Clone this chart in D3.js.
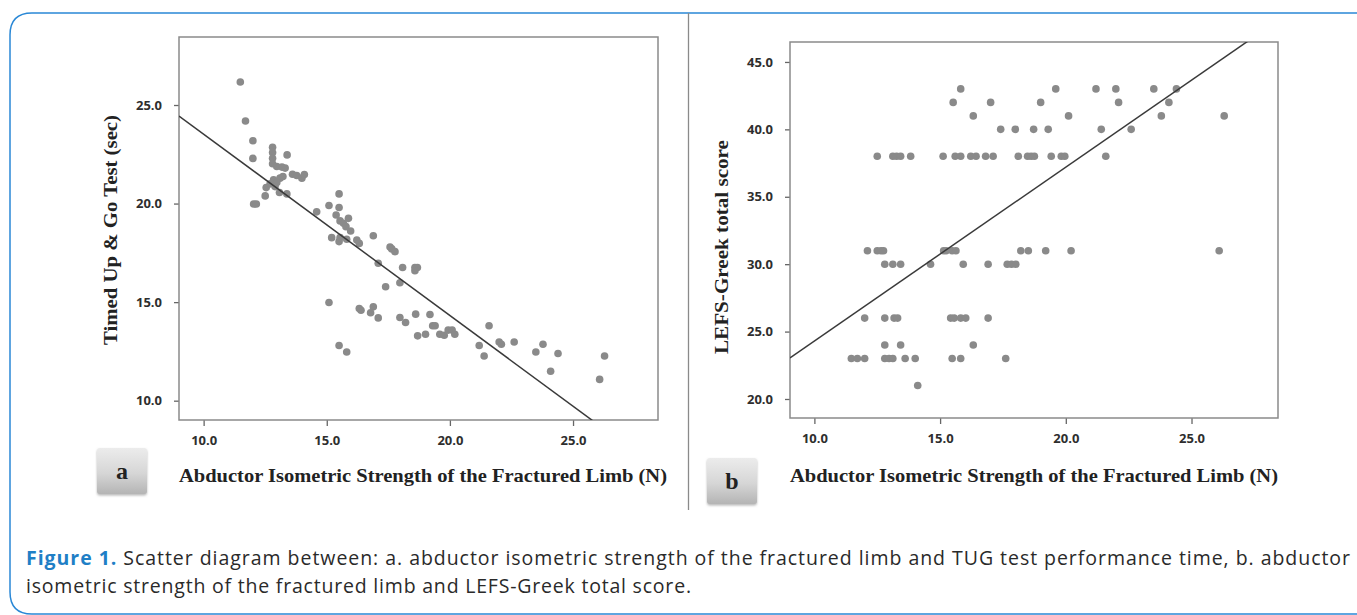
<!DOCTYPE html>
<html>
<head>
<meta charset="utf-8">
<script src="https://cdn.jsdelivr.net/npm/d3@7"></script>
<style>
  html, body { margin: 0; padding: 0; background: #fff; }
  svg { display: block; }
</style>
</head>
<body>
<div id="chart"></div>
<script>
// panel a: abductor strength vs TUG time
const aStrength = [11.49, 11.70, 12.00, 12.00, 12.03, 12.14, 12.50, 12.54, 12.70, 12.80, 12.80, 12.80, 12.80, 12.84,
  12.90, 12.97, 12.97, 13.08, 13.10, 13.18, 13.22, 13.31, 13.38, 13.39, 13.61, 13.78, 13.99, 14.09, 14.59, 15.09,
  15.50, 15.50, 15.38, 15.54, 15.68, 15.88, 15.78, 15.97, 15.20, 15.50, 15.54, 15.81, 16.22, 16.32, 16.89, 17.09,
  17.57, 17.64, 17.77, 18.08, 17.97, 18.58, 18.68, 18.58, 17.39, 15.09, 16.32, 16.39, 16.89, 16.78, 17.09, 17.97,
  18.20, 18.61, 19.19, 19.30, 19.40, 18.69, 19.01, 19.59, 19.77, 19.93, 20.09, 20.20, 15.50, 15.81, 21.19, 21.59,
  21.39, 22.00, 22.09, 22.61, 23.49, 23.78, 24.09, 24.39, 26.08, 26.28]
const aTug = [26.17, 24.19, 23.19, 22.29, 19.98, 19.98, 20.39, 20.81, 21.00, 22.86, 22.59, 22.30, 22.02, 21.20,
  20.86, 21.88, 21.07, 20.56, 21.29, 21.85, 21.37, 21.80, 20.49, 22.47, 21.49, 21.42, 21.29, 21.47, 19.58, 19.90,
  20.49, 19.80, 19.42, 19.12, 19.00, 19.25, 18.83, 18.61, 18.27, 18.07, 18.27, 18.19, 18.15, 17.98, 18.37, 16.97,
  17.80, 17.70, 17.56, 16.76, 15.98, 16.76, 16.76, 16.59, 15.78, 14.98, 14.68, 14.59, 14.76, 14.46, 14.20, 14.22,
  13.97, 14.39, 14.37, 13.80, 13.80, 13.29, 13.37, 13.37, 13.32, 13.58, 13.58, 13.37, 12.80, 12.47, 12.80, 13.80,
  12.27, 12.98, 12.86, 12.98, 12.47, 12.86, 11.49, 12.39, 11.08, 12.27]
const aFit = [32.72, -0.92]   // intercept, slope

// panel b: abductor strength vs LEFS-Greek
const bStrength = [15.82, 19.60, 21.20, 21.99, 23.50, 24.40,
  15.52, 17.01, 19.00, 22.10, 24.10,
  16.32, 20.11, 23.80, 26.30,
  17.41, 17.99, 18.72, 19.30, 21.41, 22.60,
  12.50, 13.12, 13.27, 13.43, 13.83, 15.12, 15.60, 15.82, 16.22, 16.43, 16.81, 17.11, 18.11, 18.48, 18.62, 18.75, 19.42, 19.82, 19.96, 21.59,
  12.11, 12.50, 12.65, 12.75, 15.14, 15.24, 15.48, 15.63, 18.21, 18.51, 19.20, 20.21, 26.10,
  12.80, 13.12, 13.43, 14.62, 15.92, 16.91, 17.67, 17.84, 18.01,
  12.00, 12.80, 13.17, 13.31, 15.42, 15.56, 15.82, 16.02, 16.91,
  12.80, 13.43, 16.32,
  11.47, 11.71, 12.00, 12.80, 12.97, 13.12, 13.61, 14.01, 15.48, 15.82, 17.61,
  14.11]
const bLefs = [43, 43, 43, 43, 43, 43,
  42, 42, 42, 42, 42,
  41, 41, 41, 41,
  40, 40, 40, 40, 40, 40,
  38, 38, 38, 38, 38, 38, 38, 38, 38, 38, 38, 38, 38, 38, 38, 38, 38, 38, 38, 38,
  31, 31, 31, 31, 31, 31, 31, 31, 31, 31, 31, 31, 31,
  30, 30, 30, 30, 30, 30, 30, 30, 30,
  26, 26, 26, 26, 26, 26, 26, 26, 26,
  24, 24, 24,
  23, 23, 23, 23, 23, 23, 23, 23, 23, 23, 23,
  21]
const bFit = [11.4, 1.29]

const xTicks = [10, 15, 20, 25]
const aYTicks = [10, 15, 20, 25]
const bYTicks = [20, 25, 30, 35, 40, 45]
const xTitle = "Abductor Isometric Strength of the Fractured Limb (N)"
const captionLead = "Figure 1."
const captionLines = [
  " Scatter diagram between: a. abductor isometric strength of the fractured limb and TUG test performance time, b. abductor",
  "isometric strength of the fractured limb and LEFS-Greek total score."
]

const W = 1357, H = 615
const serif = "'Liberation Serif', 'Times New Roman', serif"
const sans = "'Open Sans', 'DejaVu Sans', sans-serif"

let svg = d3.select("#chart").append("svg")
  .attr("width", W)
  .attr("height", H)

let defs = svg.append("defs")
let grad = defs.append("linearGradient").attr("id", "badge").attr("x1", 0).attr("y1", 0).attr("x2", 0).attr("y2", 1)
grad.append("stop").attr("offset", "0%").attr("stop-color", "#ececec")
grad.append("stop").attr("offset", "55%").attr("stop-color", "#d6d6d6")
grad.append("stop").attr("offset", "100%").attr("stop-color", "#b4b4b4")
let shadow = defs.append("filter").attr("id", "shadow").attr("x", "-20%").attr("y", "-20%").attr("width", "140%").attr("height", "150%")
shadow.append("feDropShadow").attr("dx", 0).attr("dy", 1.5).attr("stdDeviation", 1.2).attr("flood-color", "#888").attr("flood-opacity", 0.6)

// blue frame (runs off the right edge)
svg.append("path")
  .attr("d", `M 1375 13 L 32 13 Q 10 13 10 35 L 10 592 Q 10 614 32 614 L 1375 614`)
  .attr("fill", "none")
  .attr("stroke", "#2a88d6")
  .attr("stroke-width", 1.5)

// divider between the panels
svg.append("line")
  .attr("x1", 688.5).attr("x2", 688.5)
  .attr("y1", 13).attr("y2", 510)
  .attr("stroke", "#8a8a8a")
  .attr("stroke-width", 1.3)

let panels = [
  {id: "a", box: {left: 179, right: 658, top: 37, bottom: 420}, xDomain: [9.0, 28.45], yDomain: [9.02, 28.45],
    yTicks: aYTicks, xs: aStrength, ys: aTug, fit: aFit,
    yTitle: "Timed Up & Go Test (sec)", yTitleX: 110, yTitleY: 230, yTitleLen: 230,
    badge: {x: 97, y: 448}},
  {id: "b", box: {left: 790, right: 1278, top: 42, bottom: 418}, xDomain: [9.03, 28.44], yDomain: [18.59, 46.48],
    yTicks: bYTicks, xs: bStrength, ys: bLefs, fit: bFit,
    yTitle: "LEFS-Greek total score", yTitleX: 721, yTitleY: 247, yTitleLen: 214,
    badge: {x: 707, y: 458}}
]

panels.forEach(p => {
  let b = p.box
  let x = d3.scaleLinear().domain(p.xDomain).range([b.left, b.right])
  let y = d3.scaleLinear().domain(p.yDomain).range([b.bottom, b.top])
  let g = svg.append("g")

  // axes
  let gx = g.append("g")
    .attr("transform", `translate(0, ${b.bottom})`)
    .call(d3.axisBottom(x).tickValues(xTicks).tickFormat(d3.format(".1f")).tickSize(6).tickPadding(10))
  let gy = g.append("g")
    .attr("transform", `translate(${b.left}, 0)`)
    .call(d3.axisLeft(y).tickValues(p.yTicks).tickFormat(d3.format(".1f")).tickSize(5).tickPadding(12))
  ;[gx, gy].forEach(ax => {
    ax.select(".domain").remove()
    ax.selectAll(".tick line").attr("stroke", "#666").attr("stroke-width", 1.3)
    ax.selectAll(".tick text")
      .attr("fill", "#2e2e2e")
      .style("font-family", sans)
      .style("font-weight", "bold")
      .style("font-size", "13px")
  })

  // plot box
  g.append("rect")
    .attr("x", b.left).attr("y", b.top)
    .attr("width", b.right - b.left).attr("height", b.bottom - b.top)
    .attr("fill", "none")
    .attr("stroke", "#8a8a8a")
    .attr("stroke-width", 1.5)

  // points
  g.append("g").selectAll("circle")
    .data(p.xs.map((d, i) => [d, p.ys[i]]))
    .join("circle")
    .attr("cx", d => x(d[0]))
    .attr("cy", d => y(d[1]))
    .attr("r", 3.8)
    .attr("fill", "#8a8a8a")

  // fit line, clipped to the box
  defs.append("clipPath").attr("id", "clip-" + p.id)
    .append("rect")
    .attr("x", b.left).attr("y", b.top)
    .attr("width", b.right - b.left).attr("height", b.bottom - b.top)
  let line = d3.line().x(d => x(d)).y(d => y(p.fit[0] + p.fit[1] * d))
  g.append("path")
    .datum(p.xDomain)
    .attr("clip-path", `url(#clip-${p.id})`)
    .attr("fill", "none")
    .attr("stroke", "#3a3a3a")
    .attr("stroke-width", 1.5)
    .attr("d", line)

  // titles
  g.append("text")
    .attr("x", b.left)
    .attr("y", 482)
    .attr("textLength", 488)
    .attr("lengthAdjust", "spacingAndGlyphs")
    .attr("fill", "#222")
    .style("font-family", serif)
    .style("font-weight", "bold")
    .style("font-size", "19px")
    .text(xTitle)
  g.append("text")
    .attr("transform", `translate(${p.yTitleX}, ${p.yTitleY}) rotate(-90)`)
    .attr("text-anchor", "middle")
    .attr("dy", "0.35em")
    .attr("textLength", p.yTitleLen)
    .attr("lengthAdjust", "spacingAndGlyphs")
    .attr("fill", "#222")
    .style("font-family", serif)
    .style("font-weight", "bold")
    .style("font-size", "19px")
    .text(p.yTitle)

  // letter badge
  g.append("rect")
    .attr("x", p.badge.x).attr("y", p.badge.y)
    .attr("width", 50).attr("height", 46)
    .attr("rx", 3)
    .attr("fill", "url(#badge)")
    .attr("filter", "url(#shadow)")
  g.append("text")
    .attr("x", p.badge.x + 25)
    .attr("y", p.badge.y + 23)
    .attr("dy", "0.32em")
    .attr("text-anchor", "middle")
    .attr("fill", "#222")
    .style("font-family", serif)
    .style("font-weight", "bold")
    .style("font-size", "24px")
    .text(p.id)
})

// caption
let cap = svg.append("text")
  .attr("x", 26)
  .attr("y", 565)
  .attr("textLength", 1324)
  .attr("lengthAdjust", "spacing")
  .style("font-family", sans)
  .style("font-size", "19.5px")
  .attr("fill", "#2a2a2a")
cap.append("tspan").attr("fill", "#1f7fc6").style("font-weight", "bold").text(captionLead)
cap.append("tspan").text(captionLines[0])
svg.append("text")
  .attr("x", 26)
  .attr("y", 593)
  .attr("textLength", 665)
  .attr("lengthAdjust", "spacing")
  .style("font-family", sans)
  .style("font-size", "19.5px")
  .attr("fill", "#2a2a2a")
  .text(captionLines[1])
</script>
</body>
</html>
